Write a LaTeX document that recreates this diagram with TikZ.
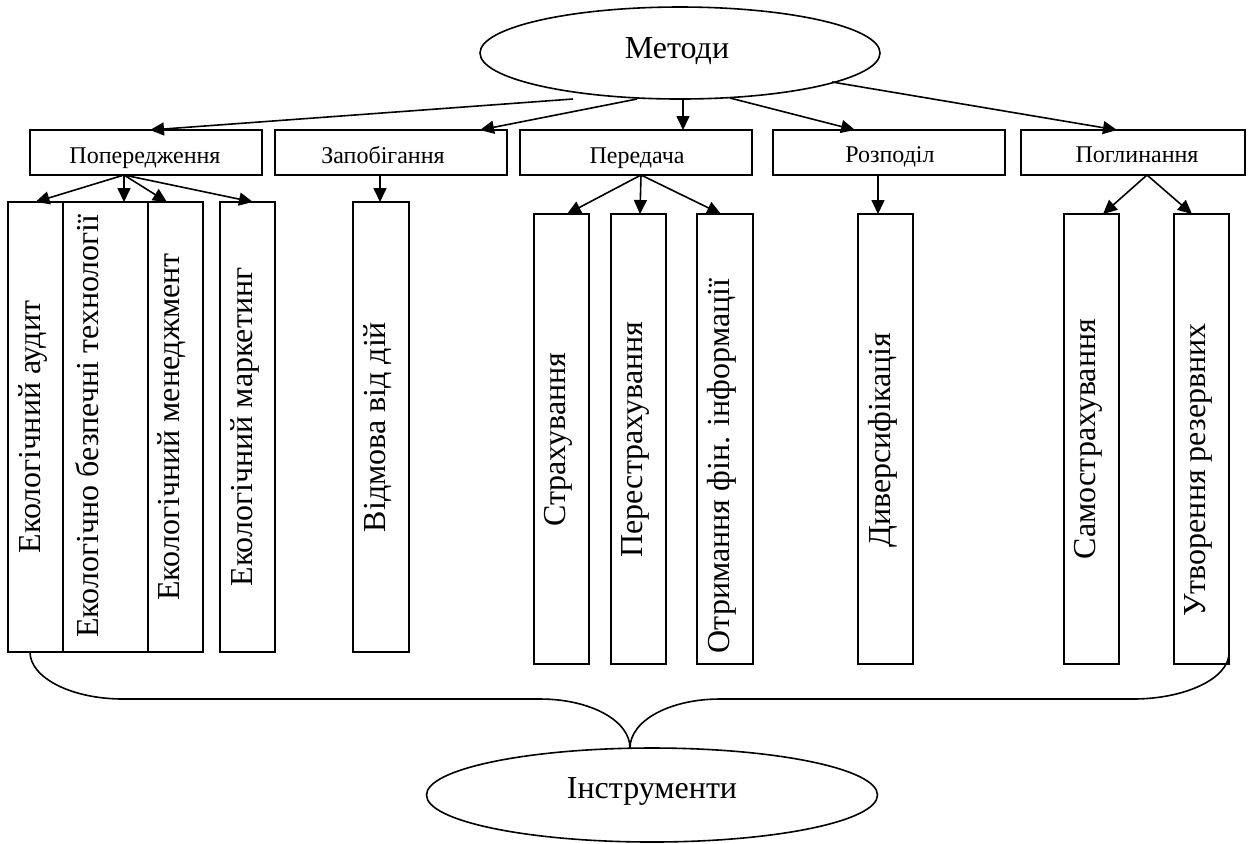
\documentclass[tikz,border=0pt]{standalone}
\usepackage{fontspec}
\setmainfont{Liberation Serif}
\usetikzlibrary{arrows.meta,shapes.geometric}

\begin{document}
\begin{tikzpicture}[x=0.5pt,y=-0.5pt,line width=0.8pt,
  every node/.style={inner sep=0pt,outer sep=0pt},
  oval/.style={draw,ellipse},
  headbox/.style={draw,minimum width=116pt,minimum height=22.5pt},
  headtext/.style={anchor=base,font=\fontsize{12}{14}\selectfont},
  tallbox/.style={draw,minimum width=27.5pt,minimum height=225pt},
  vtext/.style={rotate=90,font=\fontsize{16}{19}\selectfont},
  bigtext/.style={anchor=base,font=\fontsize{16}{19}\selectfont},
  link/.style={-{Triangle[length=7pt,width=6.5pt]}}]
\useasboundingbox (0,0) rectangle (1248,843);

% top ellipse
\node[oval,minimum width=200pt,minimum height=46pt] (m) at (680,53) {};
\node[bigtext] (mt) at (677,58) {Методи};

% second level: groups of methods
\node[headbox] (pop) at (146,152.5) {};
\node[headbox] (zap) at (391,152.5) {};
\node[headbox] (per) at (636,152.5) {};
\node[headbox] (roz) at (889,152.5) {};
\node[headbox,minimum width=112pt] (pog) at (1133,152.5) {};
\node[headtext] (popt) at (145,163) {Попередження};
\node[headtext] (zapt) at (383,163) {Запобігання};
\node[headtext] (pert) at (637,163) {Передача};
\node[headtext] (rozt) at (890,162) {Розподіл};
\node[headtext] (pogt) at (1137,162) {Поглинання};

% third level: instruments
\node[tallbox] (a1) at (35.5,427) {};
\node[tallbox,minimum width=42.5pt] (a2) at (105.5,427) {};
\node[tallbox] (a3) at (175.5,427) {};
\node[tallbox] (a4) at (247.5,427) {};
\node[tallbox,minimum width=28pt] (b1) at (381,427) {};
\node[tallbox] (c1) at (561.5,439) {};
\node[tallbox] (c2) at (638.5,439) {};
\node[tallbox,minimum width=28pt] (c3) at (725,439) {};
\node[tallbox] (d1) at (885.5,439) {};
\node[tallbox] (e1) at (1091.5,439) {};
\node[tallbox] (e2) at (1201.5,439) {};

\node[vtext] (a1t) at (33,427) {Екологічний аудит};
\node[vtext] (a2t) at (87,426) {Екологічно безпечні технології};
\node[vtext] (a3t) at (172,427) {Екологічний менеджмент};
\node[vtext] (a4t) at (245,427) {Екологічний маркетинг};
\node[vtext] (b1t) at (378,427) {Відмова від дій};
\node[vtext] (c1t) at (558,439.5) {Страхування};
\node[vtext] (c2t) at (635,439.5) {Перестрахування};
\node[vtext] (c3t) at (722,466) {Отримання фін. інформації};
\node[vtext] (d1t) at (883,440) {Диверсифікація};
\node[vtext] (e1t) at (1088,439) {Самострахування};
\node[vtext] (e2t) at (1198,470) {Утворення резервних};

% bottom ellipse
\node[oval,minimum width=225.5pt,minimum height=47pt] (tools) at (652,795) {};
\node[bigtext] (toolst) at (652,798) {Інструменти};

% arrows from the top ellipse
\draw[link] ([xshift=-53.5pt,yshift=-23pt]m.center) -- ([xshift=2pt]pop.north);
\draw[link] ([xshift=-21.5pt,yshift=-23pt]m.center) -- ([xshift=44.5pt]zap.north);
\draw[link] ([xshift=1.5pt,yshift=-23pt]m.center) -- ([xshift=23.5pt]per.north);
\draw[link] ([xshift=25pt,yshift=-22.5pt]m.center) -- ([xshift=-17pt]roz.north);
\draw[link] ([xshift=76pt,yshift=-14.5pt]m.center) -- ([xshift=-8pt]pog.north);

% arrows to the instruments
\draw[link] ([xshift=-11pt]pop.south) -- (a1.north);
\draw[link] ([xshift=-11pt]pop.south) -- ([xshift=9.25pt]a2.north);
\draw[link] ([xshift=-11pt]pop.south) -- ([xshift=-4.25pt]a3.north);
\draw[link] ([xshift=-11pt]pop.south) -- ([xshift=2.75pt]a4.north);
\draw[link] ([xshift=-5.5pt]zap.south) -- ([xshift=-0.5pt]b1.north);
\draw[link] ([xshift=2.5pt]per.south) -- ([xshift=2.75pt]c1.north);
\draw[link] ([xshift=2.5pt]per.south) -- ([xshift=0.75pt]c2.north);
\draw[link] ([xshift=2.5pt]per.south) -- ([xshift=-2pt]c3.north);
\draw[link] ([xshift=-5.5pt]roz.south) -- ([xshift=-3.75pt]d1.north);
\draw[link] ([xshift=7pt]pog.south) -- ([xshift=5.75pt]e1.north);
\draw[link] ([xshift=7pt]pog.south) -- ([xshift=-4.75pt]e2.north);

% brace gathering the instruments
\draw ([xshift=-2.75pt]a1.south) .. controls (30,678) and (72,699) .. (123,699)
  -- (540,699) .. controls (590,699) and (630,720.5) .. ([xshift=-11pt]tools.north)
  .. controls (630,720.5) and (670,699) .. (720,699)
  -- (1133,699) .. controls (1186,699) and (1229,678) .. ([yshift=5.5pt]e2.south east);
\end{tikzpicture}
\end{document}
